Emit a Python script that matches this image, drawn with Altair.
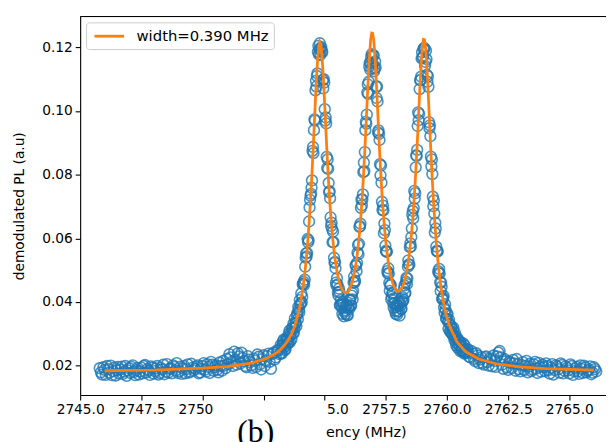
import altair as alt
import pandas as pd

# ---------------- data ----------------
# Two interleaved sweeps of measured points (frequency MHz, demodulated PL)

# sweep A, left baseline
left_freq = [2745.8, 2745.9, 2746.0, 2746.1, 2746.2, 2746.3, 2746.4, 2746.5, 2746.6, 2746.7,
             2746.8, 2746.9, 2747.0, 2747.1, 2747.2, 2747.3, 2747.4, 2747.5, 2747.6, 2747.7,
             2747.8, 2747.9, 2748.0, 2748.1, 2748.2, 2748.3, 2748.4, 2748.5, 2748.6, 2748.7,
             2748.8, 2748.9, 2749.0, 2749.1, 2749.2, 2749.3, 2749.4, 2749.5, 2749.6, 2749.7,
             2749.8, 2749.9, 2750.0, 2750.1, 2750.2, 2750.3, 2750.4, 2750.5, 2750.6, 2750.7,
             2750.8, 2750.9, 2751.0, 2751.1, 2751.2, 2751.3, 2751.4, 2751.5, 2751.6, 2751.7,
             2751.8, 2751.9, 2752.0, 2752.1, 2752.2, 2752.3, 2752.4, 2752.5, 2752.6, 2752.7,
             2752.8, 2752.9, 2753.0, 2753.1]
left_pl = [0.0192, 0.0172, 0.0187, 0.0199, 0.0178, 0.0170, 0.0194, 0.0186, 0.0175, 0.0197,
           0.0181, 0.0168, 0.0192, 0.0196, 0.0180, 0.0186, 0.0172, 0.0194, 0.0199, 0.0178,
           0.0184, 0.0198, 0.0175, 0.0191, 0.0172, 0.0193, 0.0203, 0.0181, 0.0178, 0.0192,
           0.0201, 0.0185, 0.0177, 0.0197, 0.0191, 0.0176, 0.0204, 0.0181, 0.0194, 0.0190,
           0.0201, 0.0179, 0.0199, 0.0187, 0.0205, 0.0177, 0.0203, 0.0195, 0.0187, 0.0210,
           0.0184, 0.0200, 0.0221, 0.0236, 0.0212, 0.0244, 0.0203, 0.0229, 0.0241, 0.0214,
           0.0195, 0.0219, 0.0201, 0.0222, 0.0196, 0.0228, 0.0188, 0.0233, 0.0214, 0.0238,
           0.0190, 0.0241, 0.0226, 0.0247]

# sweep B, left baseline
left_freq_b = [2745.85, 2745.95, 2746.05, 2746.15, 2746.25, 2746.35, 2746.45, 2746.55, 2746.65, 2746.75,
               2746.85, 2746.95, 2747.05, 2747.15, 2747.25, 2747.35, 2747.45, 2747.55, 2747.65, 2747.75,
               2747.85, 2747.95, 2748.05, 2748.15, 2748.25, 2748.35, 2748.45, 2748.55, 2748.65, 2748.75,
               2748.85, 2748.95, 2749.05, 2749.15, 2749.25, 2749.35, 2749.45, 2749.55, 2749.65, 2749.75,
               2749.85, 2749.95, 2750.05, 2750.15, 2750.25, 2750.35, 2750.45, 2750.55, 2750.65, 2750.75,
               2750.85, 2750.95, 2751.05, 2751.15, 2751.25, 2751.35, 2751.45, 2751.55, 2751.65, 2751.75,
               2751.85, 2751.95, 2752.05, 2752.15, 2752.25, 2752.35, 2752.45, 2752.55, 2752.65, 2752.75,
               2752.85, 2752.95, 2753.05, 2753.15]
left_pl_b = [0.0179, 0.0195, 0.0171, 0.0189, 0.0200, 0.0183, 0.0169, 0.0196, 0.0188, 0.0174,
             0.0199, 0.0185, 0.0177, 0.0201, 0.0170, 0.0193, 0.0182, 0.0176, 0.0202, 0.0189,
             0.0171, 0.0194, 0.0183, 0.0199, 0.0177, 0.0188, 0.0173, 0.0205, 0.0190, 0.0176,
             0.0196, 0.0208, 0.0183, 0.0174, 0.0199, 0.0189, 0.0178, 0.0206, 0.0185, 0.0197,
             0.0176, 0.0190, 0.0208, 0.0181, 0.0196, 0.0212, 0.0184, 0.0201, 0.0179, 0.0199,
             0.0215, 0.0192, 0.0205, 0.0226, 0.0199, 0.0218, 0.0239, 0.0207, 0.0224, 0.0199,
             0.0230, 0.0211, 0.0193, 0.0216, 0.0235, 0.0204, 0.0221, 0.0199, 0.0230, 0.0212,
             0.0236, 0.0219, 0.0248, 0.0236]

# sweep A, resonance region (with the fitted curve at the same frequencies)
peak_freq = [2753.20, 2753.24, 2753.28, 2753.32, 2753.36, 2753.40, 2753.44, 2753.48, 2753.52, 2753.56,
             2753.60, 2753.64, 2753.68, 2753.72, 2753.76, 2753.80, 2753.84, 2753.88, 2753.92, 2753.96,
             2754.00, 2754.04, 2754.08, 2754.12, 2754.16, 2754.20, 2754.24, 2754.28, 2754.32, 2754.36,
             2754.40, 2754.44, 2754.48, 2754.52, 2754.56, 2754.60, 2754.64, 2754.68, 2754.72, 2754.76,
             2754.80, 2754.84, 2754.88, 2754.92, 2754.96, 2755.00, 2755.04, 2755.08, 2755.12, 2755.16,
             2755.20, 2755.24, 2755.28, 2755.32, 2755.36, 2755.40, 2755.44, 2755.48, 2755.52, 2755.56,
             2755.60, 2755.64, 2755.68, 2755.72, 2755.76, 2755.80, 2755.84, 2755.88, 2755.92, 2755.96,
             2756.00, 2756.04, 2756.08, 2756.12, 2756.16, 2756.20, 2756.24, 2756.28, 2756.32, 2756.36,
             2756.40, 2756.44, 2756.48, 2756.52, 2756.56, 2756.60, 2756.64, 2756.68, 2756.72, 2756.76,
             2756.80, 2756.84, 2756.88, 2756.92, 2756.96, 2757.00, 2757.04, 2757.08, 2757.12, 2757.16,
             2757.20, 2757.24, 2757.28, 2757.32, 2757.36, 2757.40, 2757.44, 2757.48, 2757.52, 2757.56,
             2757.60, 2757.64, 2757.68, 2757.72, 2757.76, 2757.80, 2757.84, 2757.88, 2757.92, 2757.96,
             2758.00, 2758.04, 2758.08, 2758.12, 2758.16, 2758.20, 2758.24, 2758.28, 2758.32, 2758.36,
             2758.40, 2758.44, 2758.48, 2758.52, 2758.56, 2758.60, 2758.64, 2758.68, 2758.72, 2758.76,
             2758.80, 2758.84, 2758.88, 2758.92, 2758.96, 2759.00, 2759.04, 2759.08, 2759.12, 2759.16,
             2759.20, 2759.24, 2759.28, 2759.32, 2759.36, 2759.40, 2759.44, 2759.48, 2759.52, 2759.56,
             2759.60, 2759.64, 2759.68, 2759.72, 2759.76, 2759.80, 2759.84, 2759.88, 2759.92, 2759.96,
             2760.00, 2760.04, 2760.08, 2760.12, 2760.16, 2760.20, 2760.24, 2760.28, 2760.32, 2760.36,
             2760.40, 2760.44, 2760.48, 2760.52, 2760.56, 2760.60, 2760.64, 2760.68, 2760.72, 2760.76,
             2760.80]
peak_pl = [0.0265, 0.0238, 0.0263, 0.0282, 0.0258, 0.0253, 0.0288, 0.0282, 0.0274, 0.0310,
           0.0294, 0.0283, 0.0318, 0.0332, 0.0317, 0.0332, 0.0324, 0.0365, 0.0385, 0.0368,
           0.0392, 0.0427, 0.0416, 0.0457, 0.0454, 0.0511, 0.0553, 0.0554, 0.0588, 0.0653,
           0.0721, 0.0740, 0.0782, 0.0887, 0.0940, 0.0970, 0.1095, 0.1110, 0.1186, 0.1178,
           0.1213, 0.1196, 0.1189, 0.1097, 0.1100, 0.1006, 0.0980, 0.0856, 0.0848, 0.0774,
           0.0748, 0.0666, 0.0649, 0.0588, 0.0588, 0.0523, 0.0506, 0.0452, 0.0455, 0.0421,
           0.0432, 0.0390, 0.0394, 0.0363, 0.0393, 0.0370, 0.0374, 0.0390, 0.0359, 0.0385,
           0.0378, 0.0406, 0.0390, 0.0428, 0.0435, 0.0480, 0.0467, 0.0514, 0.0523, 0.0579,
           0.0583, 0.0638, 0.0696, 0.0704, 0.0738, 0.0838, 0.0871, 0.0966, 0.0989, 0.1084,
           0.1092, 0.1152, 0.1151, 0.1179, 0.1149, 0.1175, 0.1134, 0.1137, 0.1041, 0.1030,
           0.0939, 0.0909, 0.0798, 0.0775, 0.0689, 0.0688, 0.0647, 0.0577, 0.0558, 0.0497,
           0.0506, 0.0460, 0.0453, 0.0408, 0.0427, 0.0396, 0.0411, 0.0372, 0.0384, 0.0360,
           0.0389, 0.0371, 0.0397, 0.0378, 0.0401, 0.0403, 0.0441, 0.0427, 0.0463, 0.0456,
           0.0511, 0.0518, 0.0572, 0.0574, 0.0631, 0.0686, 0.0695, 0.0725, 0.0823, 0.0859,
           0.0953, 0.0971, 0.1069, 0.1097, 0.1165, 0.1168, 0.1195, 0.1196, 0.1154, 0.1163,
           0.1092, 0.1076, 0.0946, 0.0921, 0.0826, 0.0802, 0.0701, 0.0678, 0.0649, 0.0574,
           0.0559, 0.0497, 0.0504, 0.0462, 0.0461, 0.0410, 0.0413, 0.0383, 0.0393, 0.0348,
           0.0360, 0.0338, 0.0345, 0.0308, 0.0318, 0.0300, 0.0313, 0.0291, 0.0304, 0.0273,
           0.0282, 0.0256, 0.0278, 0.0262, 0.0274, 0.0247, 0.0259, 0.0243, 0.0264, 0.0239,
           0.0245]
peak_fit = [0.0251, 0.0255, 0.0258, 0.0262, 0.0265, 0.0269, 0.0273, 0.0277, 0.0283, 0.0288,
            0.0294, 0.0299, 0.0306, 0.0314, 0.0323, 0.0332, 0.0342, 0.0353, 0.0365, 0.0378,
            0.0394, 0.0412, 0.0430, 0.0451, 0.0475, 0.0502, 0.0532, 0.0566, 0.0605, 0.0648,
            0.0696, 0.0749, 0.0807, 0.0870, 0.0936, 0.1003, 0.1068, 0.1126, 0.1173, 0.1204,
            0.1217, 0.1209, 0.1180, 0.1135, 0.1080, 0.1017, 0.0952, 0.0889, 0.0829, 0.0774,
            0.0723, 0.0679, 0.0639, 0.0605, 0.0574, 0.0548, 0.0525, 0.0505, 0.0488, 0.0474,
            0.0462, 0.0452, 0.0445, 0.0438, 0.0434, 0.0431, 0.0429, 0.0429, 0.0430, 0.0432,
            0.0438, 0.0444, 0.0453, 0.0462, 0.0474, 0.0488, 0.0505, 0.0523, 0.0545, 0.0571,
            0.0600, 0.0633, 0.0672, 0.0715, 0.0765, 0.0819, 0.0878, 0.0941, 0.1007, 0.1073,
            0.1134, 0.1185, 0.1225, 0.1245, 0.1244, 0.1225, 0.1187, 0.1134, 0.1074, 0.1008,
            0.0942, 0.0879, 0.0820, 0.0766, 0.0717, 0.0674, 0.0636, 0.0602, 0.0573, 0.0547,
            0.0525, 0.0506, 0.0490, 0.0476, 0.0465, 0.0455, 0.0448, 0.0441, 0.0437, 0.0435,
            0.0434, 0.0434, 0.0436, 0.0440, 0.0445, 0.0452, 0.0461, 0.0472, 0.0485, 0.0501,
            0.0518, 0.0540, 0.0565, 0.0594, 0.0626, 0.0662, 0.0706, 0.0754, 0.0807, 0.0866,
            0.0925, 0.0993, 0.1057, 0.1117, 0.1168, 0.1205, 0.1225, 0.1224, 0.1202, 0.1162,
            0.1104, 0.1042, 0.0975, 0.0907, 0.0842, 0.0781, 0.0726, 0.0675, 0.0629, 0.0588,
            0.0552, 0.0519, 0.0491, 0.0466, 0.0443, 0.0423, 0.0405, 0.0390, 0.0375, 0.0362,
            0.0351, 0.0340, 0.0331, 0.0322, 0.0315, 0.0308, 0.0302, 0.0296, 0.0290, 0.0282,
            0.0276, 0.0272, 0.0268, 0.0265, 0.0261, 0.0258, 0.0254, 0.0251, 0.0248, 0.0245,
            0.0242]

# sweep B, resonance region
peak_freq_b = [2753.22, 2753.26, 2753.30, 2753.34, 2753.38, 2753.42, 2753.46, 2753.50, 2753.54, 2753.58,
               2753.62, 2753.66, 2753.70, 2753.74, 2753.78, 2753.82, 2753.86, 2753.90, 2753.94, 2753.98,
               2754.02, 2754.06, 2754.10, 2754.14, 2754.18, 2754.22, 2754.26, 2754.30, 2754.34, 2754.38,
               2754.42, 2754.46, 2754.50, 2754.54, 2754.58, 2754.62, 2754.66, 2754.70, 2754.74, 2754.78,
               2754.82, 2754.86, 2754.90, 2754.94, 2754.98, 2755.02, 2755.06, 2755.10, 2755.14, 2755.18,
               2755.22, 2755.26, 2755.30, 2755.34, 2755.38, 2755.42, 2755.46, 2755.50, 2755.54, 2755.58,
               2755.62, 2755.66, 2755.70, 2755.74, 2755.78, 2755.82, 2755.86, 2755.90, 2755.94, 2755.98,
               2756.02, 2756.06, 2756.10, 2756.14, 2756.18, 2756.22, 2756.26, 2756.30, 2756.34, 2756.38,
               2756.42, 2756.46, 2756.50, 2756.54, 2756.58, 2756.62, 2756.66, 2756.70, 2756.74, 2756.78,
               2756.82, 2756.86, 2756.90, 2756.94, 2756.98, 2757.02, 2757.06, 2757.10, 2757.14, 2757.18,
               2757.22, 2757.26, 2757.30, 2757.34, 2757.38, 2757.42, 2757.46, 2757.50, 2757.54, 2757.58,
               2757.62, 2757.66, 2757.70, 2757.74, 2757.78, 2757.82, 2757.86, 2757.90, 2757.94, 2757.98,
               2758.02, 2758.06, 2758.10, 2758.14, 2758.18, 2758.22, 2758.26, 2758.30, 2758.34, 2758.38,
               2758.42, 2758.46, 2758.50, 2758.54, 2758.58, 2758.62, 2758.66, 2758.70, 2758.74, 2758.78,
               2758.82, 2758.86, 2758.90, 2758.94, 2758.98, 2759.02, 2759.06, 2759.10, 2759.14, 2759.18,
               2759.22, 2759.26, 2759.30, 2759.34, 2759.38, 2759.42, 2759.46, 2759.50, 2759.54, 2759.58,
               2759.62, 2759.66, 2759.70, 2759.74, 2759.78, 2759.82, 2759.86, 2759.90, 2759.94, 2759.98,
               2760.02, 2760.06, 2760.10, 2760.14, 2760.18, 2760.22, 2760.26, 2760.30, 2760.34, 2760.38,
               2760.42, 2760.46, 2760.50, 2760.54, 2760.58, 2760.62, 2760.66, 2760.70, 2760.74, 2760.78,
               2760.82]
peak_pl_b = [0.0240, 0.0264, 0.0276, 0.0260, 0.0249, 0.0282, 0.0277, 0.0270, 0.0301, 0.0274,
             0.0303, 0.0317, 0.0302, 0.0303, 0.0349, 0.0335, 0.0358, 0.0346, 0.0376, 0.0406,
             0.0396, 0.0399, 0.0456, 0.0463, 0.0470, 0.0539, 0.0543, 0.0598, 0.0594, 0.0697,
             0.0734, 0.0759, 0.0875, 0.0868, 0.0974, 0.1065, 0.1077, 0.1118, 0.1205, 0.1194,
             0.1176, 0.1201, 0.1185, 0.1071, 0.1089, 0.0970, 0.0961, 0.0821, 0.0818, 0.0745,
             0.0726, 0.0639, 0.0629, 0.0621, 0.0539, 0.0526, 0.0461, 0.0475, 0.0431, 0.0442,
             0.0390, 0.0406, 0.0382, 0.0399, 0.0355, 0.0382, 0.0363, 0.0388, 0.0358, 0.0385,
             0.0407, 0.0387, 0.0420, 0.0408, 0.0462, 0.0461, 0.0516, 0.0497, 0.0555, 0.0550,
             0.0636, 0.0646, 0.0722, 0.0722, 0.0808, 0.0811, 0.0940, 0.0960, 0.1058, 0.1054,
             0.1140, 0.1130, 0.1170, 0.1134, 0.1175, 0.1125, 0.1156, 0.1077, 0.1077, 0.0933,
             0.0928, 0.0833, 0.0829, 0.0715, 0.0703, 0.0616, 0.0626, 0.0561, 0.0558, 0.0490,
             0.0489, 0.0435, 0.0453, 0.0416, 0.0429, 0.0382, 0.0396, 0.0363, 0.0393, 0.0370,
             0.0397, 0.0357, 0.0390, 0.0379, 0.0415, 0.0407, 0.0452, 0.0429, 0.0476, 0.0474,
             0.0531, 0.0517, 0.0584, 0.0604, 0.0674, 0.0663, 0.0749, 0.0742, 0.0861, 0.0878,
             0.0996, 0.0991, 0.1097, 0.1108, 0.1185, 0.1172, 0.1198, 0.1142, 0.1190, 0.1114,
             0.1109, 0.0965, 0.0955, 0.0857, 0.0848, 0.0731, 0.0719, 0.0618, 0.0631, 0.0561,
             0.0559, 0.0491, 0.0489, 0.0434, 0.0448, 0.0409, 0.0419, 0.0366, 0.0375, 0.0348,
             0.0363, 0.0316, 0.0331, 0.0308, 0.0324, 0.0299, 0.0319, 0.0281, 0.0294, 0.0263,
             0.0287, 0.0266, 0.0276, 0.0246, 0.0265, 0.0248, 0.0270, 0.0238, 0.0250, 0.0242,
             0.0252]

# sweep A, right baseline
right_freq = [2760.9, 2761.0, 2761.1, 2761.2, 2761.3, 2761.4, 2761.5, 2761.6, 2761.7, 2761.8,
              2761.9, 2762.0, 2762.1, 2762.2, 2762.3, 2762.4, 2762.5, 2762.6, 2762.7, 2762.8,
              2762.9, 2763.0, 2763.1, 2763.2, 2763.3, 2763.4, 2763.5, 2763.6, 2763.7, 2763.8,
              2763.9, 2764.0, 2764.1, 2764.2, 2764.3, 2764.4, 2764.5, 2764.6, 2764.7, 2764.8,
              2764.9, 2765.0, 2765.1, 2765.2, 2765.3, 2765.4, 2765.5, 2765.6, 2765.7, 2765.8,
              2765.9, 2766.0, 2766.1]
right_pl = [0.0228, 0.0246, 0.0221, 0.0239, 0.0208, 0.0226, 0.0203, 0.0229, 0.0200, 0.0218,
            0.0232, 0.0196, 0.0241, 0.0226, 0.0190, 0.0214, 0.0187, 0.0209, 0.0218, 0.0184,
            0.0205, 0.0182, 0.0211, 0.0199, 0.0179, 0.0206, 0.0188, 0.0212, 0.0177, 0.0196,
            0.0203, 0.0183, 0.0199, 0.0175, 0.0205, 0.0186, 0.0197, 0.0178, 0.0202, 0.0184,
            0.0193, 0.0176, 0.0199, 0.0183, 0.0196, 0.0174, 0.0190, 0.0200, 0.0179, 0.0188,
            0.0173, 0.0195, 0.0182]

# sweep B, right baseline
right_freq_b = [2760.85, 2760.95, 2761.05, 2761.15, 2761.25, 2761.35, 2761.45, 2761.55, 2761.65, 2761.75,
                2761.85, 2761.95, 2762.05, 2762.15, 2762.25, 2762.35, 2762.45, 2762.55, 2762.65, 2762.75,
                2762.85, 2762.95, 2763.05, 2763.15, 2763.25, 2763.35, 2763.45, 2763.55, 2763.65, 2763.75,
                2763.85, 2763.95, 2764.05, 2764.15, 2764.25, 2764.35, 2764.45, 2764.55, 2764.65, 2764.75,
                2764.85, 2764.95, 2765.05, 2765.15, 2765.25, 2765.35, 2765.45, 2765.55, 2765.65, 2765.75,
                2765.85, 2765.95, 2766.05]
right_pl_b = [0.0251, 0.0226, 0.0238, 0.0214, 0.0232, 0.0219, 0.0208, 0.0227, 0.0211, 0.0223,
              0.0198, 0.0215, 0.0229, 0.0246, 0.0203, 0.0221, 0.0195, 0.0213, 0.0192, 0.0207,
              0.0221, 0.0189, 0.0202, 0.0186, 0.0215, 0.0197, 0.0183, 0.0204, 0.0191, 0.0209,
              0.0181, 0.0195, 0.0207, 0.0186, 0.0194, 0.0172, 0.0201, 0.0189, 0.0207, 0.0176,
              0.0198, 0.0185, 0.0204, 0.0171, 0.0191, 0.0182, 0.0201, 0.0177, 0.0195, 0.0184,
              0.0198, 0.0178, 0.0189]

# fitted curve in the tails
fit_left_freq = [2746.0, 2747.0, 2748.0, 2749.0, 2750.0, 2751.0, 2752.0, 2752.6, 2753.0]
fit_left_val = [0.0184, 0.0185, 0.0186, 0.0189, 0.0192, 0.0197, 0.0208, 0.0222, 0.0239]
fit_right_freq = [2761.3, 2762.0, 2763.0, 2764.0, 2765.0, 2766.0]
fit_right_val = [0.0221, 0.0206, 0.0196, 0.0191, 0.0188, 0.0186]

legend_label = "width=0.390 MHz"

# axis ticks; two labels are partly hidden in the picture
x_tick_values = [2745.0, 2747.5, 2750.0, 2752.5, 2755.0, 2757.5, 2760.0, 2762.5, 2765.0]
x_tick_labels = ["2745.0", "2747.5", "", "", "", "2757.5", "2760.0", "2762.5", "2765.0"]
partial_left_tick = [2750.0]      # only the start "2750" of "2750.0" shows
partial_left_text = ["2750"]
partial_right_tick = [2755.0]     # only the end "5.0" of "2755.0" shows
partial_right_text = ["5.0"]
y_tick_values = [0.02, 0.04, 0.06, 0.08, 0.10, 0.12]

x_title = "ency (MHz)"
y_title = "demodulated PL (a.u)"
panel_tag = "(b)"

# ---------------- build tables ----------------
assert len(left_freq) == len(left_pl)
assert len(left_freq_b) == len(left_pl_b)
assert len(peak_freq) == len(peak_pl) == len(peak_fit)
assert len(peak_freq_b) == len(peak_pl_b)
assert len(right_freq) == len(right_pl)
assert len(right_freq_b) == len(right_pl_b)

scatter_df = pd.DataFrame({
    "f": left_freq + left_freq_b + peak_freq + peak_freq_b + right_freq + right_freq_b,
    "pl": left_pl + left_pl_b + peak_pl + peak_pl_b + right_pl + right_pl_b,
})
fit_df = pd.DataFrame({
    "f": fit_left_freq + peak_freq + fit_right_freq,
    "pl": fit_left_val + peak_fit + fit_right_val,
})
fit_df["series"] = legend_label

label_expr = ""
for v, lab in zip(x_tick_values, x_tick_labels):
    label_expr += f"datum.value == {v} ? '{lab}' : "
label_expr += "''"

W, H = 532, 383
FONT = "DejaVu Sans"
FS = 13.9
HALF_LABEL = 24.3   # half width of a full "2750.0"-style label

xscale = alt.Scale(domain=[2745.0, 2766.5], nice=False, zero=False)
yscale = alt.Scale(domain=[0.01078, 0.12972], nice=False, zero=False)

xaxis = alt.Axis(values=x_tick_values, labelExpr=label_expr, labelFlush=False,
                 labelOverlap=False, grid=False, tickSize=5, tickWidth=1.1,
                 tickColor="black", domainColor="black", domainWidth=1.1,
                 labelFont=FONT, labelFontSize=FS, labelColor="black", labelPadding=3,
                 title=x_title, titleFont=FONT, titleFontSize=14.5, titleFontWeight="normal",
                 titleColor="black", titleX=289, titleY=38, titleAlign="center",
                 titleBaseline="middle")
yaxis = alt.Axis(values=y_tick_values, format=".2f", grid=False, tickSize=5, tickWidth=1.1,
                 tickColor="black", domainColor="black", domainWidth=1.1,
                 labelFont=FONT, labelFontSize=FS, labelColor="black", labelPadding=3,
                 title=y_title, titleFont=FONT, titleFontSize=FS, titleFontWeight="normal",
                 titleColor="black", titleX=-61, titleY=H / 2, titleAngle=-90,
                 titleAlign="center", titleBaseline="middle")

points = alt.Chart(scatter_df).mark_point(
    shape="circle", filled=False, size=118, strokeWidth=1.6,
    color="#1f77b4", opacity=0.8
).encode(
    x=alt.X("f:Q", scale=xscale, axis=xaxis),
    y=alt.Y("pl:Q", scale=yscale, axis=yaxis),
)

fit = alt.Chart(fit_df).mark_line(strokeWidth=2.8).encode(
    x=alt.X("f:Q", scale=xscale),
    y=alt.Y("pl:Q", scale=yscale),
    color=alt.Color("series:N",
                    scale=alt.Scale(domain=[legend_label], range=["#ff7f0e"]),
                    legend=alt.Legend(title=None, orient="none", legendX=6, legendY=6,
                                      symbolType="M-1,0H3", symbolSize=225,
                                      symbolStrokeWidth=2.8, symbolOffset=2,
                                      symbolStrokeColor="#ff7f0e",
                                      labelFont=FONT, labelFontSize=15, labelColor="black",
                                      labelOffset=26, padding=5,
                                      strokeColor="#cccccc", fillColor="rgba(255,255,255,0.8)",
                                      cornerRadius=3)),
)

top_spine = alt.Chart(pd.DataFrame({"a": [0]})).mark_rule(
    color="black", strokeWidth=1.1
).encode(x=alt.value(0), x2=alt.value(W), y=alt.value(0))

left_part = alt.Chart(pd.DataFrame({"f": partial_left_tick, "t": partial_left_text})).mark_text(
    font=FONT, fontSize=FS, align="left", baseline="top", color="black", dx=-HALF_LABEL
).encode(x=alt.X("f:Q", scale=xscale), y=alt.value(H + 8), text="t:N")

right_part = alt.Chart(pd.DataFrame({"f": partial_right_tick, "t": partial_right_text})).mark_text(
    font=FONT, fontSize=FS, align="right", baseline="top", color="black", dx=HALF_LABEL
).encode(x=alt.X("f:Q", scale=xscale), y=alt.value(H + 8), text="t:N")

tag = alt.Chart(pd.DataFrame({"t": [panel_tag]})).mark_text(
    font="Liberation Serif", fontSize=32, align="left", baseline="alphabetic", color="black"
).encode(x=alt.value(159), y=alt.value(431), text="t:N")

chart = alt.layer(points, fit, top_spine, left_part, right_part, tag).properties(
    width=W, height=H,
    autosize=alt.AutoSizeParams(type="none"),
    padding={"left": 73, "top": 6, "right": 0, "bottom": 45},
).configure_view(stroke=None).configure(background="white")

chart.save("out.html", embed_options={"renderer": "svg", "actions": False})
